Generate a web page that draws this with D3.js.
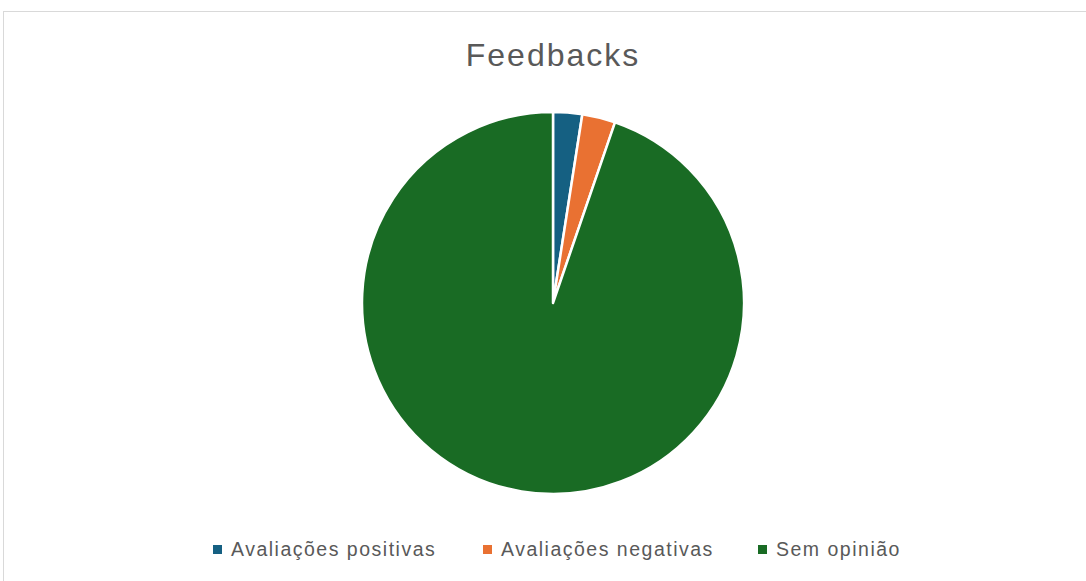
<!DOCTYPE html>
<html>
<head>
<meta charset="utf-8">
<script src="https://cdn.jsdelivr.net/npm/d3@7"></script>
<style>
  body { margin: 0; background: #fff; }
</style>
</head>
<body>
<div id="chart"></div>
<script>
const categories = ["Avaliações positivas", "Avaliações negativas", "Sem opinião"];
const values = [7, 8, 270];
const colors = ["#156082", "#E97132", "#196B24"];

const width = 1086, height = 581;

const svg = d3.select("#chart")
    .append("svg")
    .attr("width", width)
    .attr("height", height);

// chart area frame
svg.append("rect")
    .attr("x", 3.5)
    .attr("y", 11.5)
    .attr("width", width + 10)
    .attr("height", height + 10)
    .attr("fill", "#fff")
    .attr("stroke", "#d9d9d9")
    .attr("stroke-width", 1);

// title
svg.append("text")
    .attr("x", 553)
    .attr("y", 66)
    .attr("text-anchor", "middle")
    .attr("fill", "#595959")
    .style("font-family", "'Liberation Sans', Arial, sans-serif")
    .style("font-size", "32px")
    .style("letter-spacing", "2px")
    .text("Feedbacks");

// pie
const cx = 553, cy = 303, radius = 191;
const data = categories.map((c, i) => ({ label: c, value: values[i], color: colors[i] }));

const pie = d3.pie().value(d => d.value).sort(null);
const arc = d3.arc().innerRadius(0).outerRadius(radius);

const g = svg.append("g").attr("transform", `translate(${cx},${cy})`);
g.selectAll("path")
    .data(pie(data))
    .join("path")
    .attr("d", arc)
    .attr("fill", d => d.data.color)
    .attr("stroke", "#fff")
    .attr("stroke-width", 2.5)
    .attr("stroke-linejoin", "round");

// legend
const legendX = [213, 483, 758];
const legendY = 556;
const legend = svg.append("g");
data.forEach((d, i) => {
    legend.append("rect")
        .attr("x", legendX[i])
        .attr("y", legendY - 11)
        .attr("width", 9)
        .attr("height", 9)
        .attr("fill", d.color);
    legend.append("text")
        .attr("x", legendX[i] + 18)
        .attr("y", legendY)
        .attr("fill", "#595959")
        .style("font-family", "'Liberation Sans', Arial, sans-serif")
        .style("font-size", "19.5px")
        .style("letter-spacing", "1.5px")
        .text(d.label);
});
</script>
</body>
</html>
